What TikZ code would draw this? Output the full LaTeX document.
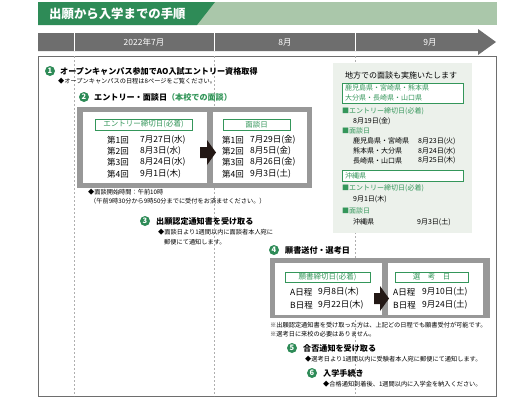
\documentclass[tikz,border=0pt]{standalone}
\usepackage{fontspec}
\setmainfont{Noto Sans CJK JP}
\definecolor{hdrgreen}{RGB}{46,139,87}
\definecolor{hdrlight}{RGB}{170,199,170}
\definecolor{tlgray}{RGB}{110,110,110}
\definecolor{boxgray}{RGB}{152,152,152}
\definecolor{txtgreen}{RGB}{52,150,90}
\definecolor{panelbg}{RGB}{236,241,235}
\definecolor{dashgray}{RGB}{175,175,175}
\definecolor{arrowblk}{RGB}{35,24,21}
\begin{document}
\begin{tikzpicture}[x=1pt,y=-1pt,
  steptitle/.style={anchor=west,inner sep=0pt,font=\fontsize{8.1}{9}\bfseries\selectfont},
  subtxt/.style={anchor=west,inner sep=0pt,font=\fontsize{6.2}{7}\selectfont},
  rowtxt/.style={anchor=west,inner sep=0pt,font=\fontsize{8.5}{9}\selectfont},
  paneltxt/.style={anchor=west,inner sep=0pt,font=\fontsize{7}{8}\selectfont},
  greentxt/.style={paneltxt,text=txtgreen},
  numcirc/.style={circle,fill=hdrgreen,text=white,inner sep=0pt,minimum size=10pt,font=\fontsize{7.5}{7.5}\bfseries\selectfont},
  lblbox/.style={draw=txtgreen,line width=0.7pt,fill=white,text=txtgreen,inner sep=0pt,font=\fontsize{7.5}{8}\selectfont},
  tltxt/.style={text=white,inner sep=0pt,font=\fontsize{8.5}{9}\selectfont},
  dashline/.style={draw=dashgray,dash pattern=on 2pt off 2pt,line width=0.5pt}
]
\useasboundingbox (0,0) rectangle (530,400);
% header
\fill[hdrlight] (197,2) -- (497,2) -- (497,25) -- (197,25) -- cycle;
\fill[hdrgreen] (38,2) -- (215,2) -- (197,25) -- (38,25) -- cycle;
\node[anchor=west,inner sep=0pt,text=white,font=\fontsize{12.4}{13}\bfseries\selectfont] (title) at (49,13.5) {出願から入学までの手順};
% timeline
\fill[tlgray] (38,33) -- (478,33) -- (478,29) -- (496,42) -- (478,55) -- (478,51) -- (38,51) -- cycle;
\draw[white,line width=0.6pt] (74,33) -- (74,51) (214,33) -- (214,51) (355,33) -- (355,51);
\node[tltxt] (m7) at (144,42) {2022年7月};
\node[tltxt] (m8) at (285,42) {8月};
\node[tltxt] (m9) at (430,42) {9月};
% frame
\draw[tlgray,line width=0.7pt] (38,56) -- (38,396) -- (496,396) -- (496,56) -- cycle;
\draw[dashline] (74,56) -- (74,396);
\draw[dashline] (214,56) -- (214,396);
\draw[dashline] (355,56) -- (355,396);
% step 1
\node[numcirc] (n1) at (50,71) {1};
\node[steptitle] (s1) at (60,71) {オープンキャンパス参加でAO入試エントリー資格取得};
\node[subtxt] (s1b) at (58,81) {◆オープンキャンパスの日程は8ページをご覧ください。};
% step 2
\node[numcirc] (n2) at (84,97) {2};
\node[steptitle] (s2) at (94,97) {エントリー・面談日\textcolor{txtgreen}{（本校での面談）}};
\fill[boxgray] (77,107) rectangle (312,188);
\fill[white] (83,112) rectangle (207,183);
\fill[white] (213,112) rectangle (307,183);
\node[lblbox,minimum width=97pt,minimum height=11pt] (l2a) at (143.5,124.5) {エントリー締切日(必着)};
\node[lblbox,minimum width=67pt,minimum height=11pt] (l2b) at (256.5,124.5) {面談日};
\node[rowtxt] (r1a) at (107,140) {第1回};\node[rowtxt] (d1a) at (140,140) {7月27日(水)};
\node[rowtxt] (r2a) at (107,151) {第2回};\node[rowtxt] (d2a) at (140,151) {8月3日(水)};
\node[rowtxt] (r3a) at (107,162) {第3回};\node[rowtxt] (d3a) at (140,162) {8月24日(水)};
\node[rowtxt] (r4a) at (107,174) {第4回};\node[rowtxt] (d4a) at (140,174) {9月1日(木)};
\node[rowtxt] (r1b) at (222,140) {第1回};\node[rowtxt] (d1b) at (250,140) {7月29日(金)};
\node[rowtxt] (r2b) at (222,151) {第2回};\node[rowtxt] (d2b) at (250,151) {8月5日(金)};
\node[rowtxt] (r3b) at (222,162) {第3回};\node[rowtxt] (d3b) at (250,162) {8月26日(金)};
\node[rowtxt] (r4b) at (222,174) {第4回};\node[rowtxt] (d4b) at (250,174) {9月3日(土)};
\fill[arrowblk] (200,147) -- (207,147) -- (207,140) -- (216,152.5) -- (207,165) -- (207,158) -- (200,158) -- cycle;
\node[subtxt] (s2b) at (88,192) {◆面談開始時間：午前10時};
\node[subtxt] (s2c) at (90,201) {（午前9時30分から9時50分までに受付をお済ませください。）};
% step 3
\node[numcirc] (n3) at (145,221) {3};
\node[steptitle] (s3) at (156,221) {出願認定通知書を受け取る};
\node[subtxt] (s3b) at (158,232) {◆面談日より1週間以内に面談者本人宛に};
\node[subtxt] (s3c) at (164,242) {郵便にて通知します。};
% panel
\fill[panelbg] (333,63) rectangle (472,233);
\node[paneltxt,font=\fontsize{8}{9}\selectfont] (p0) at (345,75) {地方での面談も実施いたします};
\draw[txtgreen,line width=0.7pt,fill=white] (342,83) rectangle (463,103);
\node[greentxt] (p1) at (345,88) {鹿児島県・宮崎県・熊本県};
\node[greentxt] (p2) at (345,97.5) {大分県・長崎県・山口県};
\node[greentxt] (p3) at (342,111) {■エントリー締切日(必着)};
\node[paneltxt] (p4) at (353,121) {8月19日(金)};
\node[greentxt] (p5) at (342,131) {■面談日};
\node[paneltxt] (p6) at (353,141) {鹿児島県・宮崎県};\node[paneltxt] (p6d) at (418,141) {8月23日(火)};
\node[paneltxt] (p7) at (353,151) {熊本県・大分県};\node[paneltxt] (p7d) at (418,151) {8月24日(水)};
\node[paneltxt] (p8) at (353,160.5) {長崎県・山口県};\node[paneltxt] (p8d) at (418,160.5) {8月25日(木)};
\draw[txtgreen,line width=0.7pt,fill=white] (342,170) rectangle (463,181);
\node[greentxt] (p9) at (345,175.5) {沖縄県};
\node[greentxt] (p10) at (342,188) {■エントリー締切日(必着)};
\node[paneltxt] (p11) at (353,199) {9月1日(木)};
\node[greentxt] (p12) at (342,211) {■面談日};
\node[paneltxt] (p13) at (353,222) {沖縄県};\node[paneltxt] (p13d) at (417,222) {9月3日(土)};
% step 4
\node[numcirc] (n4) at (274,250) {4};
\node[steptitle] (s4) at (285,250) {願書送付・選考日};
\fill[boxgray] (270,258) rectangle (490,318);
\fill[white] (275,263) rectangle (382,315);
\fill[white] (388,263) rectangle (483,315);
\node[lblbox,minimum width=85pt,minimum height=10pt] (l4a) at (327.5,277) {願書締切日(必着)};
\node[lblbox,minimum width=73pt,minimum height=10pt] (l4b) at (431.5,277) {選\hspace{1em}考\hspace{1em}日};
\node[rowtxt] (ra1) at (290,292) {A日程};\node[rowtxt] (da1) at (318,292) {9月8日(木)};
\node[rowtxt] (rb1) at (290,305) {B日程};\node[rowtxt] (db1) at (318,305) {9月22日(木)};
\node[rowtxt] (ra2) at (393,292) {A日程};\node[rowtxt] (da2) at (422,292) {9月10日(土)};
\node[rowtxt] (rb2) at (393,305) {B日程};\node[rowtxt] (db2) at (422,305) {9月24日(土)};
\fill[arrowblk] (374,293) -- (380,293) -- (380,286) -- (389,298.5) -- (380,311) -- (380,304) -- (374,304) -- cycle;
\node[subtxt] (s4b) at (270,325) {※出願認定通知書を受け取った方は、上記どの日程でも願書受付が可能です。};
\node[subtxt] (s4c) at (270,334) {※選考日に来校の必要はありません。};
% step 5
\node[numcirc] (n5) at (292,348) {5};
\node[steptitle] (s5) at (303,348) {合否通知を受け取る};
\node[subtxt] (s5b) at (305,359) {◆選考日より1週間以内に受験者本人宛に郵便にて通知します。};
% step 6
\node[numcirc] (n6) at (312,373) {6};
\node[steptitle] (s6) at (323,373) {入学手続き};
\node[subtxt] (s6b) at (323,384) {◆合格通知到着後、1週間以内に入学金を納入ください。};
\end{tikzpicture}
\end{document}
